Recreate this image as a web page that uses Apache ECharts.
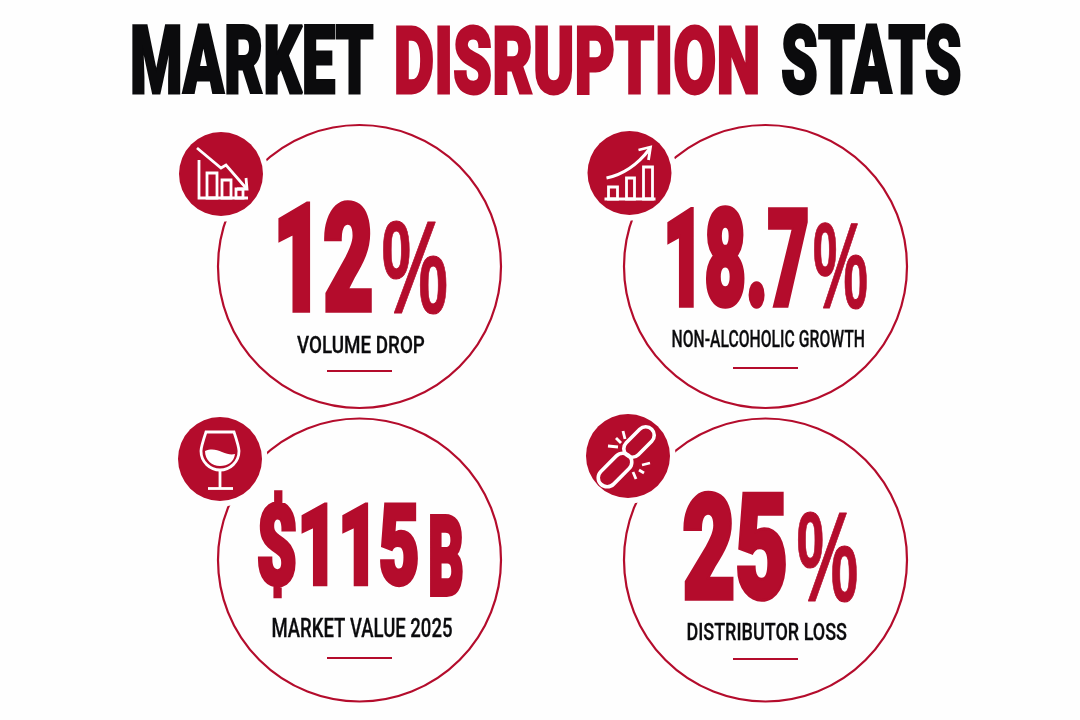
<!DOCTYPE html>
<html>
<head>
<meta charset="utf-8">
<title>Market Disruption Stats</title>
<style>
    html, body { margin: 0; padding: 0; background: #fefefe; }
    #chart { width: 1080px; height: 720px; }
</style>
<script src="https://cdn.jsdelivr.net/npm/echarts@6/dist/echarts.min.js"></script>
</head>
<body>
<div id="chart"></div>
<script>
(function () {
    'use strict';

    // data
    var titleWords = ['MARKET', 'DISRUPTION', 'STATS'];
    var statValues = [12, 18.7, 115, 25];
    var statPrefixes = ['', '', '$', ''];
    var statUnits = ['%', '%', 'B', '%'];
    var statLabels = ['VOLUME DROP', 'NON-ALCOHOLIC GROWTH', 'MARKET VALUE 2025', 'DISTRIBUTOR LOSS'];
    var statColumns = ['left', 'right', 'left', 'right'];
    var statRows = ['upper', 'upper', 'lower', 'lower'];
    var columnNames = ['left', 'right'];
    var rowNames = ['upper', 'lower'];
    var iconNames = ['falling', 'rising', 'wine', 'link'];

    // layout, [x, y, width, height] of the ink, relative to the centre of each ring
    var RED = '#b40c2c';
    var INK = '#0b0b0d';
    var PAPER = '#fefefe';
    var titleBoxes = [[132, 23, 242, 72], [396, 23, 362, 72], [782, 23, 179, 72]];
    var titleColors = [INK, RED, INK];
    var numberBoxes = [[-81.5, -66.5, 94, 113], [-98.5, -61.5, 141, 104], [-101.5, -69, 160, 107], [-82.5, -69, 103, 112]];
    var unitBoxes = [[23.5, -46.5, 64, 94], [48.5, -43.5, 53, 87], [70.5, -46, 33, 83], [32.5, -48, 59, 91]];
    var labelBoxes = [[-62.5, 68.5, 128, 18], [-93.5, 62.5, 192, 18], [-87.5, 58, 180, 19], [-78.5, 62, 160, 18]];
    var ruleY = [104.5, 101.5, 98, 99];
    var badgeOffsets = [[-138.5, -92.5], [-136, -93.5], [-139.5, -101], [-137.5, -104]];
    var RING_RADIUS = 141.5;
    var BADGE_RADIUS = 42;
    var HALO_RADIUS = 47.5;
    var RULE_HALF = 32.5;

    var HEAVY = 'Roboto';
    var PERCENT = '"Liberation Sans"';
    var measure = document.createElement('canvas').getContext('2d');

    // squeezes a text into a box so that its ink fills the box exactly
    function fitText(text, box, family, weight, capRatio, color, strokeWidth) {
        var size = Math.round(box[3] / capRatio);
        var font = weight + ' ' + size + 'px ' + family;
        measure.font = font;
        measure.textAlign = 'left';
        measure.textBaseline = 'middle';
        var m = measure.measureText(text);
        var inkWidth = m.actualBoundingBoxLeft + m.actualBoundingBoxRight + strokeWidth;
        var inkHeight = m.actualBoundingBoxAscent + m.actualBoundingBoxDescent + strokeWidth;
        var scaleX = box[2] / inkWidth;
        var scaleY = box[3] / inkHeight;
        return {
            type: 'text',
            x: box[0] + (m.actualBoundingBoxLeft + strokeWidth / 2) * scaleX,
            y: box[1] + (m.actualBoundingBoxAscent + strokeWidth / 2) * scaleY,
            scaleX: scaleX,
            scaleY: scaleY,
            style: {
                text: text,
                font: font,
                fill: color,
                stroke: strokeWidth ? color : null,
                lineWidth: strokeWidth,
                lineJoin: 'miter',
                miterLimit: 2,
                align: 'left',
                verticalAlign: 'middle'
            }
        };
    }

    function line(points) {
        return {
            type: 'polyline',
            shape: { points: points },
            style: { stroke: '#fff', fill: null, lineWidth: 2.8 }
        };
    }

    function box(x, y, w, h) {
        return {
            type: 'rect',
            shape: { x: x, y: y, width: w, height: h },
            style: { stroke: '#fff', fill: null, lineWidth: 2.8 }
        };
    }

    function link(x, y, length, width) {
        return {
            type: 'rect',
            x: x,
            y: y,
            rotation: Math.PI / 4,
            shape: { x: -length / 2, y: -width / 2, width: length, height: width, r: width / 2 },
            style: { stroke: '#fff', fill: null, lineWidth: 3.6 }
        };
    }

    var icons = {
        falling: function () {
            return [
                line([[-24, -26], [0, -6], [5, -9], [25, 14]]),
                line([[25, 4], [26, 15], [16, 15]]),
                line([[-22, -14], [-22, 24], [27, 24]]),
                box(-14, -1, 10, 25),
                box(1, 6, 9, 18),
                box(15, 15, 7, 9)
            ];
        },
        rising: function () {
            return [
                line([[-25, 26], [26, 26]]),
                box(-21, 14, 9, 12),
                box(-3, 5, 8, 21),
                box(14, -6, 9, 32),
                {
                    type: 'path',
                    shape: { pathData: 'M-23 5 C-8 2 8 -8 20 -24', layout: 'none' },
                    style: { stroke: '#fff', fill: null, lineWidth: 3.2 }
                },
                line([[9, -23], [21, -26], [19, -13]])
            ];
        },
        wine: function () {
            return [
                {
                    type: 'path',
                    shape: { pathData: 'M-14 -27 L14 -27 C17 -18 19 -12 19 -8 C19 3 10 11 0 11 C-10 11 -19 3 -19 -8 C-19 -12 -17 -18 -14 -27 Z', layout: 'none' },
                    style: { stroke: '#fff', fill: null, lineWidth: 2.8 }
                },
                {
                    type: 'path',
                    shape: { pathData: 'M-15 -8 C-8 -11 -3 -9 2 -7 C7 -5 11 -4 15 -5 C14 3 8 7 0 7 C-8 7 -15 1 -15 -8 Z', layout: 'none' },
                    style: { fill: '#fff' }
                },
                line([[0, 11], [0, 29]]),
                line([[-12, 29.5], [13, 29.5]])
            ];
        },
        link: function () {
            return [
                link(11, -14, 36, 17),
                link(-13, 14, 40, 18),
                line([[-20, -10], [-10, -9]]),
                line([[-12, -18], [-7, -13]]),
                line([[-5, -25], [-3, -17]]),
                line([[14, 9], [22, 7]]),
                line([[11, 14], [16, 17]]),
                line([[5, 16], [8, 23]])
            ];
        }
    };

    function renderStat(params, api) {
        var i = params.dataIndex;
        var centre = api.coord([api.value(0), api.value(1)]);
        var badge = badgeOffsets[i];
        var numberText = statPrefixes[i] + statValues[i];
        var unitLabel = statUnits[i] === '%'
            ? fitText(statUnits[i], unitBoxes[i], PERCENT, 700, 0.72, RED, 1)
            : fitText(statUnits[i], unitBoxes[i], HEAVY, 900, 0.72, RED, 4);

        return {
            type: 'group',
            x: centre[0],
            y: centre[1],
            children: [
                {
                    type: 'circle',
                    shape: { cx: 0, cy: 0, r: RING_RADIUS },
                    style: { stroke: RED, fill: null, lineWidth: 2.2 }
                },
                {
                    type: 'circle',
                    shape: { cx: badge[0], cy: badge[1], r: HALO_RADIUS },
                    style: { fill: PAPER }
                },
                {
                    type: 'circle',
                    shape: { cx: badge[0], cy: badge[1], r: BADGE_RADIUS },
                    style: { fill: RED }
                },
                {
                    type: 'group',
                    x: badge[0],
                    y: badge[1],
                    children: icons[iconNames[i]]()
                },
                fitText(numberText, numberBoxes[i], HEAVY, 900, 0.72, RED, 6),
                unitLabel,
                fitText(statLabels[i], labelBoxes[i], HEAVY, 500, 0.72, INK, 0.3),
                {
                    type: 'line',
                    shape: { x1: -RULE_HALF, y1: ruleY[i], x2: RULE_HALF, y2: ruleY[i] },
                    style: { stroke: RED, lineWidth: 1.8 }
                }
            ]
        };
    }

    function renderTitle(params) {
        var i = params.dataIndex;
        return fitText(titleWords[i], titleBoxes[i], HEAVY, 900, 0.72, titleColors[i], 3);
    }

    var statData = statValues.map(function (value, i) {
        return [statColumns[i], statRows[i], value];
    });

    var chart = echarts.init(document.getElementById('chart'));

    chart.setOption({
        animation: false,
        backgroundColor: PAPER,
        tooltip: { show: false },
        grid: { left: 156.5, top: 119.75, width: 812, height: 587 },
        xAxis: { type: 'category', data: columnNames, show: false },
        yAxis: { type: 'category', data: rowNames, inverse: true, show: false },
        series: [
            {
                name: 'stats',
                type: 'custom',
                clip: false,
                silent: true,
                encode: { x: 0, y: 1 },
                renderItem: renderStat,
                data: statData
            },
            {
                name: 'title',
                type: 'custom',
                coordinateSystem: 'none',
                silent: true,
                renderItem: renderTitle,
                data: titleWords
            }
        ]
    });
}());
</script>
</body>
</html>
